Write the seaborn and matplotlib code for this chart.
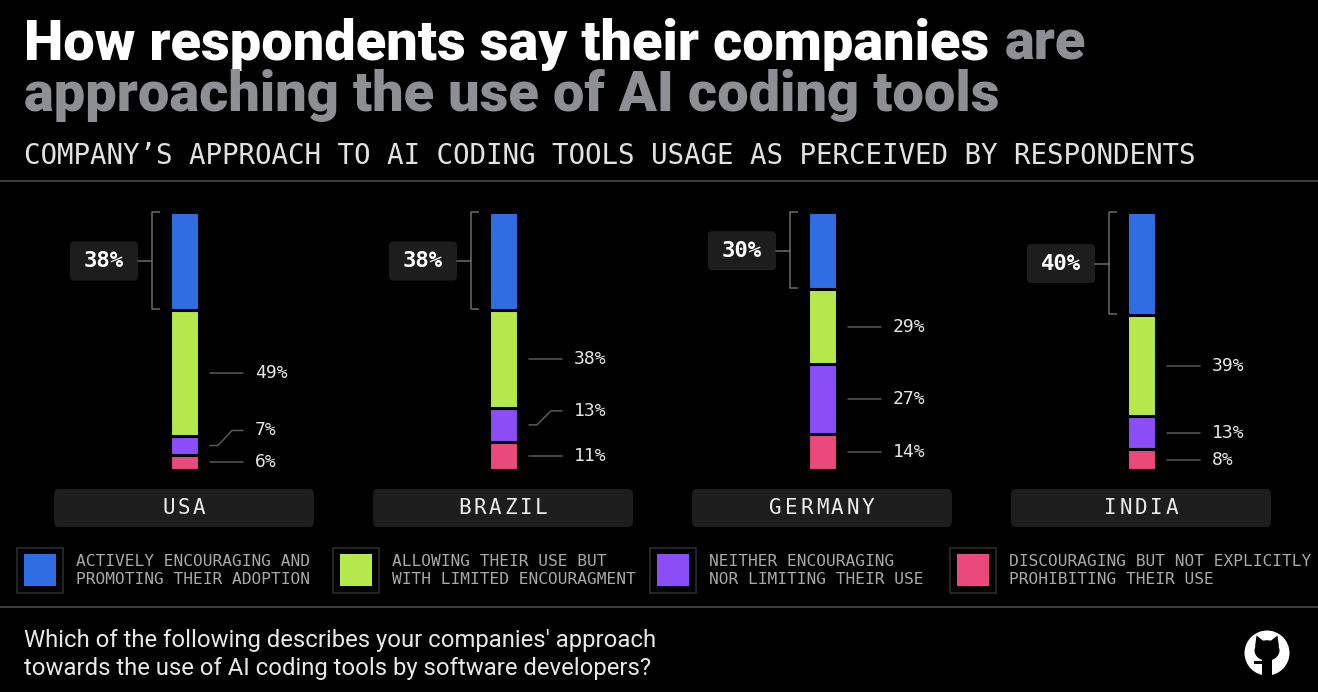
import numpy as np
import pandas as pd
import matplotlib
matplotlib.use("Agg")
import matplotlib.pyplot as plt
import seaborn as sns
from matplotlib.patches import FancyBboxPatch, Rectangle, Circle, Ellipse, Polygon

# ---- data ----
countries = ["USA", "BRAZIL", "GERMANY", "INDIA"]
legend_labels = [
    "ACTIVELY ENCOURAGING AND\nPROMOTING THEIR ADOPTION",
    "ALLOWING THEIR USE BUT\nWITH LIMITED ENCOURAGMENT",
    "NEITHER ENCOURAGING\nNOR LIMITING THEIR USE",
    "DISCOURAGING BUT NOT EXPLICITLY\nPROHIBITING THEIR USE",
]
actively = [38, 38, 30, 40]
allowing = [49, 38, 29, 39]
neither = [7, 13, 27, 13]
discouraging = [6, 11, 14, 8]

title_1 = "How respondents say their companies"
title_1b = "are"
title_2 = "approaching the use of AI coding tools"
subtitle = "COMPANY\u2019S APPROACH TO AI CODING TOOLS USAGE AS PERCEIVED BY RESPONDENTS"
question = ["Which of the following describes your companies' approach",
            "towards the use of AI coding tools by software developers?"]

colors = ["#2f6de3", "#b5e84c", "#8b4df5", "#e9497b"]
BOX = "#1d1d1d"
LINE = "#5a5a5a"

# ---- figure ----
W, H = 1318, 692
sns.set_theme(style="dark", rc={"figure.facecolor": "black",
                                "axes.facecolor": "black",
                                "savefig.facecolor": "black"})
MONO = ["DejaVu Sans Mono"]
SANS = ["Roboto", "DejaVu Sans"]
plt.rcParams["font.family"] = SANS

fig = plt.figure(figsize=(W / 100, H / 100), dpi=100)

# main axes: category i at pixel column 184 + 319*i, 0% at row 470, 100% at row 212
XPX = 319.0
SC = 2.58
ax = fig.add_axes([24.5 / W, (H - 530) / H, 1276 / W, 330 / H])


def ypx(p):
    return (470 - p) / SC


df = pd.DataFrame({"country": countries, "actively": actively, "allowing": allowing,
                   "neither": neither, "discouraging": discouraging})
df["c1"] = df["discouraging"]
df["c2"] = df["c1"] + df["neither"]
df["c3"] = df["c2"] + df["allowing"]
df["c4"] = df["c3"] + df["actively"]

# stacked bars drawn as overlapping cumulative layers, black edges give the gaps
for col, colr in zip(["c4", "c3", "c2", "c1"], colors):
    sns.barplot(data=df, x="country", y=col, order=countries, color=colr,
                saturation=1, width=29 / XPX, edgecolor="black", linewidth=2.2,
                errorbar=None, ax=ax)

ax.set_xlim(-0.5, 3.5)
ax.set_ylim(ypx(530), ypx(200))
ax.set_axis_off()

nudge = {(0, 2): 15, (1, 2): 14}  # px, leader labels lifted to avoid crowding

for i, c in enumerate(countries):
    row = df.iloc[i]
    segs = [(row.c3, row.c4), (row.c2, row.c3), (row.c1, row.c2), (0, row.c1)]
    vals = [row.actively, row.allowing, row.neither, row.discouraging]

    # bracket + boxed label for the top segment
    lo, hi = segs[0]
    mid = (lo + hi) / 2
    bx = i - 32 / XPX
    ax.plot([i - 24 / XPX, bx, bx, i - 24 / XPX], [hi, hi, lo + 0.5, lo + 0.5],
            color="#6a6a6a", lw=1.1, solid_capstyle="butt")
    ax.plot([i - 46 / XPX, bx], [mid, mid], color="#6a6a6a", lw=1.1)
    ax.add_patch(FancyBboxPatch((i - 114 / XPX, mid - 19.5 / SC), 68 / XPX, 39 / SC,
                                boxstyle="round,pad=0,rounding_size=%f" % (4 / XPX),
                                mutation_aspect=XPX / SC, fc=BOX, ec="none"))
    ax.text(i - 80 / XPX, mid, f"{vals[0]:.0f}%", ha="center", va="center",
            color="white", fontsize=16, fontweight="bold", family=MONO)

    # leader lines + labels for the other segments
    for k in range(1, 4):
        lo, hi = segs[k]
        mid = (lo + hi) / 2
        up = nudge.get((i, k), 0) / SC
        if up:
            ax.plot([i + 26 / XPX, i + 34 / XPX, i + 48 / XPX, i + 59 / XPX],
                    [mid, mid, mid + up, mid + up], color=LINE, lw=1.1)
        else:
            ax.plot([i + 26 / XPX, i + 59 / XPX], [mid, mid], color=LINE, lw=1.1)
        ax.text(i + 71 / XPX, mid + up, f"{vals[k]:.0f}%", ha="left", va="center",
                color="#e6e6e6", fontsize=13, family=MONO)

    # country label box
    ax.add_patch(FancyBboxPatch((i - 130 / XPX, ypx(527)), 260 / XPX, 38 / SC,
                                boxstyle="round,pad=0,rounding_size=%f" % (5 / XPX),
                                mutation_aspect=XPX / SC, fc=BOX, ec="none",
                                clip_on=False))
    step = 15.4 / XPX
    n = len(c)
    for j, ch in enumerate(c):
        ax.text(i + (j - (n - 1) / 2) * step, ypx(508), ch, ha="center", va="center",
                color="#ececec", fontsize=15, family=MONO)


# ---- text around the chart (figure pixel coords) ----
def fx(px):
    return px / W


def fy(py):
    return 1 - py / H


t1a = fig.text(fx(24), fy(60), title_1, color="white", fontsize=40,
               fontweight=900, va="baseline")
t1b = fig.text(fx(24), fy(60), title_1b, color="#8d8f93", fontsize=40,
               fontweight=900, va="baseline")
t2 = fig.text(fx(24), fy(111), title_2, color="#8d8f93", fontsize=40,
              fontweight=900, va="baseline")
st = fig.text(fx(24), fy(164), subtitle, color="#e2e2e2", fontsize=19,
              family=MONO, va="baseline")
q1 = fig.text(fx(24), fy(641), question[0], color="#e8e8e8", fontsize=15, va="center")
q2 = fig.text(fx(24), fy(668), question[1], color="#e8e8e8", fontsize=15, va="center")

fig.canvas.draw()
r = fig.canvas.get_renderer()


def fit(t, target):
    bb = t.get_window_extent(r)
    t.set_fontsize(t.get_fontsize() * target / bb.width)


fit(t2, 998 - 24)
t1a.set_fontsize(t2.get_fontsize())
t1b.set_fontsize(t2.get_fontsize())
fit(st, 1200 - 24)
fit(q2, 652 - 24)
q1.set_fontsize(q2.get_fontsize())
fig.canvas.draw()
bb = t1a.get_window_extent(r)
t1b.set_x((bb.x1 + 0.28 * t2.get_fontsize() * 100 / 72) / W)

# separators
for yy in [181, 607]:
    fig.add_artist(plt.Line2D([0, 1], [fy(yy), fy(yy)], color="#3c3c3c", lw=1.5))

# legend
leg_x = [17, 333, 650, 950]
for k in range(4):
    x0 = leg_x[k]
    fig.add_artist(Rectangle((fx(x0), fy(593)), 46 / W, 45 / H, fc="black",
                             ec="#2c2c2c", lw=1.2))
    fig.add_artist(Rectangle((fx(x0 + 7), fy(586)), 32 / W, 32 / H,
                             fc=colors[k], ec="none"))
    l1, l2 = legend_labels[k].split("\n")
    fig.text(fx(x0 + 59), fy(561), l1, color="#a9a9a9", fontsize=11.7,
             family=MONO, va="center")
    fig.text(fx(x0 + 59), fy(580), l2, color="#a9a9a9", fontsize=11.7,
             family=MONO, va="center")

# github mark
axl = fig.add_axes([(1267 - 25) / W, (H - 653 - 25) / H, 50 / W, 50 / H])
axl.set_xlim(-1, 1)
axl.set_ylim(-1, 1)
axl.set_axis_off()
axl.add_patch(Circle((0, 0), 0.9, fc="white", ec="none"))
axl.add_patch(Ellipse((0, 0.1), 1.0, 0.82, fc="black", ec="none"))
axl.add_patch(Polygon([(-0.48, 0.25), (-0.42, 0.7), (-0.14, 0.48)], fc="black", ec="none"))
axl.add_patch(Polygon([(0.48, 0.25), (0.42, 0.7), (0.14, 0.48)], fc="black", ec="none"))
axl.add_patch(Rectangle((-0.2, -0.95), 0.4, 1.0, fc="black", ec="none"))
axl.add_patch(Rectangle((-0.52, -0.42), 0.32, 0.1, fc="black", ec="none"))

fig.savefig("out.png", dpi=100, facecolor="black")
